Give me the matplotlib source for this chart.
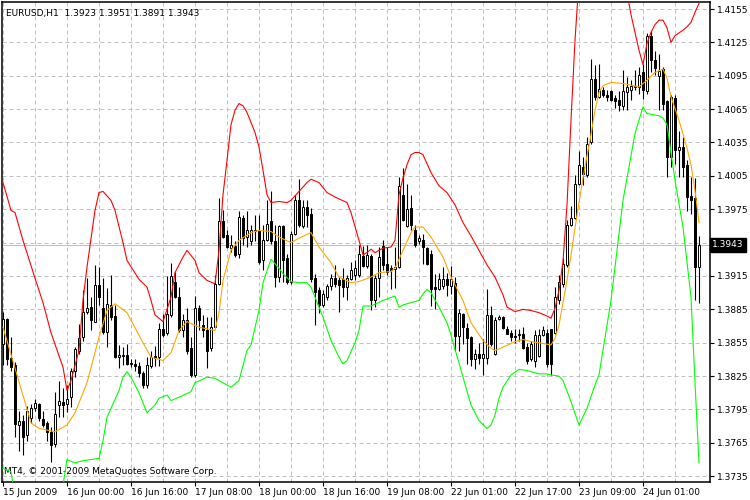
import matplotlib
matplotlib.use('Agg')
import matplotlib.pyplot as plt
import numpy as np

# EURUSD H1 candles, bar 0 = 15 Jun 2009 08:00
opens = [1.3854, 1.3876, 1.3841, 1.3835, 1.3781, 1.3785, 1.3772, 1.3787, 1.3796, 1.3800,
         1.3786, 1.3783, 1.3775, 1.3764, 1.3799, 1.3802, 1.3800, 1.3806, 1.3830, 1.3848,
         1.3860, 1.3883, 1.3887, 1.3874, 1.3907, 1.3886, 1.3865, 1.3889, 1.3879, 1.3842,
         1.3843, 1.3844, 1.3836, 1.3836, 1.3834, 1.3828, 1.3817, 1.3834, 1.3843, 1.3842,
         1.3867, 1.3864, 1.3880, 1.3910, 1.3896, 1.3866, 1.3875, 1.3850, 1.3826, 1.3886,
         1.3871, 1.3866, 1.3850, 1.3869, 1.3908, 1.3964, 1.3952, 1.3940, 1.3942, 1.3935,
         1.3967, 1.3950, 1.3946, 1.3955, 1.3955, 1.3929, 1.3947, 1.3964, 1.3946, 1.3914,
         1.3960, 1.3931, 1.3910, 1.3953, 1.3983, 1.3960, 1.3977, 1.3971, 1.3913, 1.3902,
         1.3889, 1.3896, 1.3906, 1.3913, 1.3911, 1.3912, 1.3905, 1.3912, 1.3916, 1.3916,
         1.3933, 1.3924, 1.3933, 1.3893, 1.3913, 1.3942, 1.3926, 1.3922, 1.3921, 1.3923,
         1.3988, 1.3960, 1.3976, 1.3956, 1.3946, 1.3947, 1.3940, 1.3935, 1.3905, 1.3903,
         1.3906, 1.3912, 1.3906, 1.3909, 1.3861, 1.3881, 1.3868, 1.3860, 1.3840, 1.3845,
         1.3841, 1.3841, 1.3880, 1.3845, 1.3876, 1.3878, 1.3867, 1.3864, 1.3861, 1.3862,
         1.3863, 1.3851, 1.3840, 1.3839, 1.3843, 1.3862, 1.3864, 1.3867, 1.3864, 1.3893,
         1.3908, 1.3925, 1.3961, 1.3967, 1.3998, 1.4013, 1.4006, 1.4035, 1.4092, 1.4076,
         1.4082, 1.4078, 1.4081, 1.4075, 1.4073, 1.4068, 1.4080, 1.4082, 1.4085, 1.4085,
         1.4098, 1.4081, 1.4131, 1.4109, 1.4095, 1.4101, 1.4072, 1.4022, 1.4075, 1.4028,
         1.4031, 1.4015, 1.3987, 1.3985, 1.3923]
highs = [1.3883, 1.3877, 1.3860, 1.3838, 1.3794, 1.3790, 1.3798, 1.3800, 1.3804, 1.3801,
         1.3794, 1.3785, 1.3779, 1.3811, 1.3821, 1.3814, 1.3817, 1.3832, 1.3851, 1.3872,
         1.3902, 1.3913, 1.3896, 1.3925, 1.3923, 1.3913, 1.3904, 1.3916, 1.3889, 1.3853,
         1.3851, 1.3854, 1.3840, 1.3840, 1.3838, 1.3830, 1.3842, 1.3848, 1.3852, 1.3873,
         1.3881, 1.3915, 1.3927, 1.3919, 1.3905, 1.3881, 1.3886, 1.3860, 1.3897, 1.3889,
         1.3880, 1.3878, 1.3878, 1.3916, 1.3985, 1.3974, 1.3956, 1.3952, 1.3946, 1.3973,
         1.3970, 1.3973, 1.3961, 1.3970, 1.3970, 1.3961, 1.3983, 1.3991, 1.3961, 1.3961,
         1.3961, 1.3935, 1.3955, 1.3988, 1.4002, 1.3983, 1.3983, 1.3976, 1.3917, 1.3905,
         1.3902, 1.3908, 1.3917, 1.3925, 1.3914, 1.3922, 1.3916, 1.3928, 1.3929, 1.3943,
         1.3942, 1.3943, 1.3935, 1.3916, 1.3941, 1.3947, 1.3941, 1.3925, 1.3941, 1.4004,
         1.4012, 1.3998, 1.3988, 1.3961, 1.3952, 1.3953, 1.3941, 1.3938, 1.3917, 1.3918,
         1.3923, 1.3918, 1.3924, 1.3914, 1.3885, 1.3882, 1.3873, 1.3861, 1.3849, 1.3855,
         1.3858, 1.3903, 1.3888, 1.3878, 1.3880, 1.3879, 1.3870, 1.3866, 1.3867, 1.3867,
         1.3869, 1.3855, 1.3857, 1.3866, 1.3867, 1.3870, 1.3867, 1.3867, 1.3905, 1.3916,
         1.3931, 1.3965, 1.3978, 1.4006, 1.4027, 1.4022, 1.4040, 1.4110, 1.4105, 1.4106,
         1.4085, 1.4082, 1.4082, 1.4078, 1.4081, 1.4100, 1.4094, 1.4091, 1.4100, 1.4103,
         1.4106, 1.4133, 1.4135, 1.4117, 1.4115, 1.4103, 1.4073, 1.4078, 1.4078, 1.4045,
         1.4040, 1.4019, 1.4004, 1.4003, 1.3951]
lows = [1.3835, 1.3835, 1.3830, 1.3770, 1.3758, 1.3754, 1.3767, 1.3783, 1.3794, 1.3785,
        1.3779, 1.3767, 1.3748, 1.3761, 1.3788, 1.3788, 1.3793, 1.3797, 1.3824, 1.3845,
        1.3857, 1.3881, 1.3866, 1.3874, 1.3889, 1.3863, 1.3851, 1.3875, 1.3841, 1.3832,
        1.3835, 1.3835, 1.3833, 1.3830, 1.3824, 1.3814, 1.3814, 1.3832, 1.3834, 1.3834,
        1.3860, 1.3862, 1.3878, 1.3895, 1.3865, 1.3860, 1.3845, 1.3824, 1.3824, 1.3866,
        1.3860, 1.3832, 1.3848, 1.3869, 1.3907, 1.3949, 1.3940, 1.3937, 1.3932, 1.3931,
        1.3943, 1.3941, 1.3943, 1.3946, 1.3926, 1.3920, 1.3946, 1.3944, 1.3905, 1.3910,
        1.3910, 1.3908, 1.3908, 1.3952, 1.3959, 1.3958, 1.3959, 1.3910, 1.3871, 1.3882,
        1.3887, 1.3893, 1.3902, 1.3905, 1.3883, 1.3896, 1.3893, 1.3911, 1.3911, 1.3914,
        1.3923, 1.3922, 1.3884, 1.3887, 1.3896, 1.3920, 1.3916, 1.3903, 1.3904, 1.3922,
        1.3964, 1.3959, 1.3956, 1.3941, 1.3944, 1.3926, 1.3925, 1.3888, 1.3885, 1.3902,
        1.3903, 1.3897, 1.3899, 1.3848, 1.3848, 1.3854, 1.3836, 1.3834, 1.3831, 1.3836,
        1.3826, 1.3836, 1.3852, 1.3844, 1.3875, 1.3867, 1.3863, 1.3857, 1.3855, 1.3857,
        1.3849, 1.3836, 1.3839, 1.3833, 1.3842, 1.3861, 1.3833, 1.3826, 1.3863, 1.3890,
        1.3905, 1.3923, 1.3960, 1.3966, 1.3997, 1.3997, 1.4004, 1.4034, 1.4073, 1.4075,
        1.4076, 1.4072, 1.4072, 1.4066, 1.4063, 1.4064, 1.4064, 1.4073, 1.4082, 1.4079,
        1.4074, 1.4079, 1.4098, 1.4096, 1.4064, 1.4064, 1.4004, 1.4013, 1.4016, 1.4004,
        1.4004, 1.3973, 1.3971, 1.3893, 1.3891]
closes = [1.3876, 1.3840, 1.3833, 1.3782, 1.3785, 1.3770, 1.3794, 1.3796, 1.3801, 1.3787,
          1.3781, 1.3775, 1.3763, 1.3791, 1.3803, 1.3799, 1.3804, 1.3830, 1.3849, 1.3859,
          1.3883, 1.3886, 1.3875, 1.3907, 1.3896, 1.3865, 1.3890, 1.3878, 1.3842, 1.3844,
          1.3844, 1.3836, 1.3836, 1.3834, 1.3828, 1.3817, 1.3835, 1.3842, 1.3841, 1.3867,
          1.3862, 1.3881, 1.3915, 1.3896, 1.3866, 1.3875, 1.3848, 1.3826, 1.3886, 1.3875,
          1.3866, 1.3848, 1.3869, 1.3908, 1.3964, 1.3950, 1.3941, 1.3943, 1.3934, 1.3968,
          1.3949, 1.3956, 1.3956, 1.3956, 1.3928, 1.3947, 1.3962, 1.3946, 1.3914, 1.3960,
          1.3929, 1.3910, 1.3953, 1.3983, 1.3961, 1.3977, 1.3970, 1.3912, 1.3901, 1.3889,
          1.3899, 1.3906, 1.3913, 1.3908, 1.3907, 1.3905, 1.3913, 1.3920, 1.3922, 1.3935,
          1.3924, 1.3934, 1.3893, 1.3913, 1.3932, 1.3925, 1.3919, 1.3920, 1.3923, 1.3996,
          1.3965, 1.3975, 1.3961, 1.3943, 1.3949, 1.3941, 1.3926, 1.3903, 1.3903, 1.3912,
          1.3912, 1.3907, 1.3912, 1.3861, 1.3882, 1.3869, 1.3859, 1.3840, 1.3845, 1.3841,
          1.3845, 1.3880, 1.3854, 1.3875, 1.3878, 1.3868, 1.3863, 1.3860, 1.3860, 1.3863,
          1.3850, 1.3839, 1.3854, 1.3862, 1.3862, 1.3866, 1.3836, 1.3836, 1.3896, 1.3910,
          1.3926, 1.3961, 1.3967, 1.3998, 1.4015, 1.4007, 1.4034, 1.4092, 1.4076, 1.4083,
          1.4078, 1.4076, 1.4073, 1.4072, 1.4069, 1.4081, 1.4085, 1.4086, 1.4086, 1.4096,
          1.4082, 1.4131, 1.4109, 1.4102, 1.4099, 1.4070, 1.4022, 1.4076, 1.4028, 1.4031,
          1.4013, 1.3986, 1.3983, 1.3923, 1.3943]

# indicator lines (bar index, price)
upper_idx = [0, 2, 3, 5, 8, 10, 12, 15, 16, 17, 19, 20, 21, 23, 24, 25, 27, 28, 30, 31,
             34, 36, 37, 38, 40, 42, 43, 45, 46, 48, 49, 51, 53, 54, 55, 56, 57, 58, 59, 60,
             61, 62, 63, 64, 65, 66, 67, 69, 71, 72, 74, 76, 77, 79, 81, 83, 86, 87, 89, 90,
             91, 92, 93, 95, 97, 98, 99, 100, 101, 102, 103, 104, 105, 107, 109, 111, 113, 115, 117, 119,
             121, 123, 125, 126, 128, 130, 132, 134, 136, 137, 138, 139, 140, 141, 142, 143, 144, 148, 152, 156,
             157, 158, 159, 160, 161, 162, 163, 164, 165, 166, 167, 168, 170, 171, 172, 173, 174]
upper_val = [1.3999, 1.3974, 1.3972, 1.3947, 1.3913, 1.3891, 1.3864, 1.3833, 1.3812, 1.3821,
             1.3848, 1.3893, 1.3923, 1.3974, 1.3990, 1.3991, 1.3983, 1.3974, 1.3945, 1.3929,
             1.3912, 1.3905, 1.3893, 1.3880, 1.3874, 1.3896, 1.3918, 1.3932, 1.3938, 1.3929,
             1.3918, 1.3911, 1.3908, 1.3938, 1.3988, 1.4019, 1.4051, 1.4064, 1.4070, 1.4068,
             1.4062, 1.4053, 1.4044, 1.4031, 1.4010, 1.3988, 1.3981, 1.3982, 1.3981, 1.3983,
             1.3991, 1.3999, 1.4002, 1.3999, 1.3990, 1.3986, 1.3981, 1.3972, 1.3947, 1.3934,
             1.3936, 1.3939, 1.3936, 1.3940, 1.3941, 1.3947, 1.3988, 1.4003, 1.4015, 1.4024,
             1.4026, 1.4026, 1.4024, 1.4008, 1.3996, 1.3990, 1.3979, 1.3963, 1.3951, 1.3938,
             1.3925, 1.3914, 1.3898, 1.3887, 1.3883, 1.3885, 1.3884, 1.3882, 1.3879, 1.3877,
             1.3886, 1.3902, 1.3928, 1.3979, 1.4055, 1.4127, 1.4181, 1.4300, 1.4300, 1.4170,
             1.4150, 1.4134, 1.4118, 1.4105, 1.4124, 1.4134, 1.4141, 1.4145, 1.4145, 1.4138,
             1.4125, 1.4131, 1.4136, 1.4139, 1.4143, 1.4152, 1.4160]

mid_idx = [0, 7, 9, 13, 16, 18, 21, 24, 26, 28, 31, 35, 37, 40, 42, 44, 46, 49, 53, 54,
           55, 57, 59, 62, 64, 67, 69, 72, 74, 77, 79, 82, 84, 87, 89, 92, 94, 97, 98, 100,
           102, 103, 105, 107, 110, 112, 115, 117, 120, 122, 123, 125, 128, 130, 132, 134, 137, 138, 139, 140,
           141, 142, 143, 144, 145, 146, 147, 148, 149, 150, 152, 155, 159, 161, 163, 165, 166, 167, 169, 171,
           172, 173, 174]
mid_val = [1.3869, 1.3783, 1.3778, 1.3775, 1.3781, 1.3792, 1.3819, 1.3860, 1.3884, 1.3890,
           1.3882, 1.3855, 1.3842, 1.3839, 1.3846, 1.3866, 1.3874, 1.3869, 1.3866, 1.3882,
           1.3911, 1.3938, 1.3947, 1.3954, 1.3956, 1.3955, 1.3950, 1.3945, 1.3949, 1.3954,
           1.3941, 1.3927, 1.3914, 1.3909, 1.3910, 1.3914, 1.3918, 1.3919, 1.3922, 1.3938,
           1.3954, 1.3959, 1.3959, 1.3950, 1.3932, 1.3914, 1.3893, 1.3873, 1.3857, 1.3850,
           1.3848, 1.3851, 1.3856, 1.3858, 1.3856, 1.3855, 1.3853, 1.3859, 1.3871, 1.3891,
           1.3911, 1.3934, 1.3958, 1.3981, 1.4003, 1.4023, 1.4042, 1.4064, 1.4080, 1.4086,
           1.4089, 1.4088, 1.4085, 1.4091, 1.4098, 1.4101, 1.4093, 1.4076, 1.4055, 1.4030,
           1.4015, 1.3992, 1.3963]

lower_idx = [0, 2, 3, 8, 13, 15, 16, 18, 20, 24, 25, 26, 29, 30, 31, 32, 34, 36, 38, 39,
             41, 42, 44, 47, 48, 51, 53, 54, 57, 59, 61, 62, 64, 65, 67, 69, 70, 72, 74, 76,
             77, 80, 82, 84, 85, 86, 88, 89, 90, 92, 95, 98, 99, 100, 102, 104, 105, 106, 107, 109,
             111, 112, 113, 114, 115, 117, 119, 121, 122, 123, 124, 125, 127, 129, 131, 134, 136, 137, 139, 140,
             142, 144, 146, 148, 149, 152, 155, 158, 160, 161, 164, 165, 166, 168, 170, 172, 173, 174]
lower_val = [1.3742, 1.3739, 1.3718, 1.3680, 1.3690, 1.3727, 1.3750, 1.3747, 1.3749, 1.3751,
             1.3767, 1.3788, 1.3812, 1.3824, 1.3829, 1.3824, 1.3810, 1.3792, 1.3799, 1.3805,
             1.3808, 1.3803, 1.3806, 1.3811, 1.3819, 1.3824, 1.3823, 1.3821, 1.3815, 1.3821,
             1.3848, 1.3853, 1.3884, 1.3909, 1.3930, 1.3922, 1.3917, 1.3910, 1.3909, 1.3909,
             1.3905, 1.3878, 1.3857, 1.3842, 1.3836, 1.3839, 1.3855, 1.3866, 1.3888, 1.3888,
             1.3893, 1.3897, 1.3887, 1.3889, 1.3891, 1.3893, 1.3899, 1.3903, 1.3900, 1.3887,
             1.3873, 1.3862, 1.3849, 1.3837, 1.3824, 1.3799, 1.3785, 1.3778, 1.3781, 1.3790,
             1.3805, 1.3815, 1.3826, 1.3831, 1.3830, 1.3827, 1.3827, 1.3826, 1.3825, 1.3821,
             1.3802, 1.3781, 1.3796, 1.3817, 1.3826, 1.3893, 1.3983, 1.4043, 1.4067, 1.4061,
             1.4059, 1.4057, 1.4051, 1.4001, 1.3959, 1.3896, 1.3819, 1.3747]

time_ticks = [0, 16, 32, 48, 64, 80, 96, 112, 128, 144, 160]
time_labels = ['15 Jun 2009', '16 Jun 00:00', '16 Jun 16:00', '17 Jun 08:00', '18 Jun 00:00',
               '18 Jun 16:00', '19 Jun 08:00', '22 Jun 01:00', '22 Jun 17:00', '23 Jun 09:00',
               '24 Jun 01:00']
price_ticks = [1.3735, 1.3765, 1.3795, 1.3825, 1.3855, 1.3885, 1.3915, 1.3945, 1.3975,
               1.4005, 1.4035, 1.4065, 1.4095, 1.4125, 1.4155]
last_price = 1.3943

plt.rcParams['font.family'] = 'DejaVu Sans'
plt.rcParams['font.size'] = 6.5

fig = plt.figure(figsize=(7.5, 5), dpi=100)
ax = fig.add_axes([2 / 750, 18 / 500, 708 / 750, 480 / 500])

o = np.array(opens)
h = np.array(highs)
l = np.array(lows)
c = np.array(closes)
x = np.arange(len(o))

ax.axhline(last_price, color='#c0c0c0', lw=0.72, zorder=1)

ax.vlines(x, l, h, color='black', linewidth=0.8, zorder=2)
bull = c >= o
body_bottom = np.minimum(o, c)
body_height = np.maximum(np.abs(c - o), 0.00004)
ax.bar(x, body_height, bottom=body_bottom, width=0.6,
       color=np.where(bull, 'white', 'black'), edgecolor='black',
       linewidth=0.7, zorder=3)

ax.plot(upper_idx, upper_val, color='#ff0000', lw=0.8, zorder=4)
ax.plot(mid_idx, mid_val, color='#ffa500', lw=0.8, zorder=4)
ax.plot(lower_idx, lower_val, color='#00ff00', lw=0.8, zorder=4)

ax.set_xlim(-0.25, 176.75)
ax.set_ylim(1.37298, 1.41613)

ax.set_xticks(time_ticks)
ax.set_xticklabels(time_labels, ha='left')
ax.set_xticks(range(8, 176, 16), minor=True)
ax.tick_params(axis='x', which='major', length=3, pad=1.5, width=0.8)
ax.tick_params(axis='x', which='minor', length=0)

ax.yaxis.tick_right()
ax.set_yticks(price_ticks)
# the 1.3945 label sits under the current price box
ax.set_yticklabels(['' if p == 1.3945 else '%.4f' % p for p in price_ticks])
ax.tick_params(axis='y', length=3, pad=2, width=0.8)

ax.grid(True, which='both', color='#c0c0c0', linestyle=(0, (4, 3)), linewidth=0.72, zorder=0)
ax.set_axisbelow(True)
for s in ax.spines.values():
    s.set_linewidth(1.1)

ax.text(1.003, last_price, '1.3943', transform=ax.get_yaxis_transform(),
        ha='left', va='center', color='white', fontsize=6.5,
        bbox=dict(facecolor='black', edgecolor='black', boxstyle='square,pad=0.25'))

ax.text(0.005, 0.985, 'EURUSD,H1  1.3923 1.3951 1.3891 1.3943', transform=ax.transAxes,
        ha='left', va='top', fontsize=6.5)
ax.text(0.003, 0.012, 'MT4, \u00a9 2001-2009 MetaQuotes Software Corp.', transform=ax.transAxes,
        ha='left', va='bottom', fontsize=6.5)

fig.savefig('out.png', dpi=100)
